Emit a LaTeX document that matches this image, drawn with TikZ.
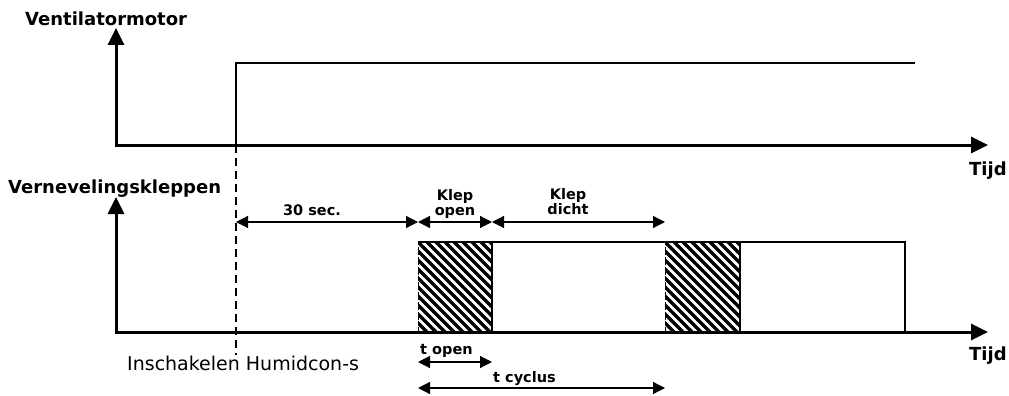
\documentclass[tikz,border=0pt]{standalone}
\usepackage{fontspec}
\setmainfont{DejaVu Sans}
\usetikzlibrary{arrows.meta}

\begin{document}
\begin{tikzpicture}[x=1pt,y=-1pt,
  axis/.style={line width=3pt,line cap=rect,-{Triangle[length=17pt,width=16pt]}},
  dim/.style={line width=1.2pt,{Triangle[length=12pt,width=12pt]}-{Triangle[length=12pt,width=12pt]}},
  signal/.style={line width=1.5pt},
  stripe/.style={line width=3.3pt},
  title/.style={font=\bfseries\fontsize{18}{20}\selectfont,inner sep=0pt},
  small/.style={font=\bfseries\fontsize{14.5}{15}\selectfont,inner sep=0pt,align=center}]

  \useasboundingbox (0,0) rectangle (1009,396);

  % axes
  \coordinate (o1) at (116,145);
  \coordinate (y1) at (116,28);
  \coordinate (x1) at (988,145);
  \coordinate (o2) at (116,332);
  \coordinate (y2) at (116,197);
  \coordinate (x2) at (988,332);
  \draw[axis] (o1) -- (y1);
  \draw[axis] (o1) -- (x1);
  \draw[axis] (o2) -- (y2);
  \draw[axis] (o2) -- (x2);

  \node[title,anchor=base west] (motor) at (25,26) {Ventilatormotor};
  \node[title,anchor=base west] (klep) at (8,193) {Vernevelingskleppen};
  \node[title,anchor=base west] (tijd1) at (969,175) {Tijd};
  \node[title,anchor=base west] (tijd2) at (969,360) {Tijd};

  % motor signal
  \coordinate (on) at (236,145);
  \coordinate (onT) at (236,63);
  \coordinate (offT) at (915,63);
  \draw[signal] (on) -- (onT) -- (offT);
  \coordinate (start) at (236,355);
  \draw[line width=1.2pt,dash pattern=on 8pt off 5pt] (on) -- (start);
  \node[font=\fontsize{19}{21}\selectfont,inner sep=0pt,anchor=base west] (humid) at (127,370) {Inschakelen Humidcon-s};

  % valve signal, hatched while open
  \foreach \a/\b in {418/492,665/740} {
    \begin{scope}
      \clip (\a,242) rectangle (\b,332);
      \foreach \s in {-99,-90,...,81}
        \draw[stripe] (\a+\s,242) -- ++(100,100);
    \end{scope}
    \draw[signal] (\b,242) -- (\b,332);
    \draw[line width=1pt,dash pattern=on 3pt off 2pt] (\a,242) -- (\a,332);
  }
  \coordinate (v0) at (418,242);
  \coordinate (v1) at (905,242);
  \coordinate (v2) at (905,332);
  \draw[signal] (v0) -- (v1) -- (v2);

  % time spans
  \coordinate (d0) at (236,222);
  \coordinate (d1) at (418,222);
  \coordinate (d2) at (492,222);
  \coordinate (d3) at (665,222);
  \path (d0) [dim] edge (d1);
  \path (d1) [dim] edge (d2);
  \path (d2) [dim] edge (d3);
  \node[small,anchor=base] (sec) at (312,215) {30 sec.};
  \node[small,anchor=south] (open) at (455,219) {Klep\\open};
  \node[small,anchor=south] (dicht) at (568,215) {Klep\\dicht};

  \coordinate (t0) at (418,362);
  \coordinate (t1) at (492,362);
  \coordinate (c0) at (418,388);
  \coordinate (c1) at (665,388);
  \path (t0) [dim] edge (t1);
  \path (c0) [dim] edge (c1);
  \node[small,anchor=base west] (topen) at (420,354) {t open};
  \node[small,anchor=base west] (tcyc) at (493,382) {t cyclus};
\end{tikzpicture}
\end{document}
